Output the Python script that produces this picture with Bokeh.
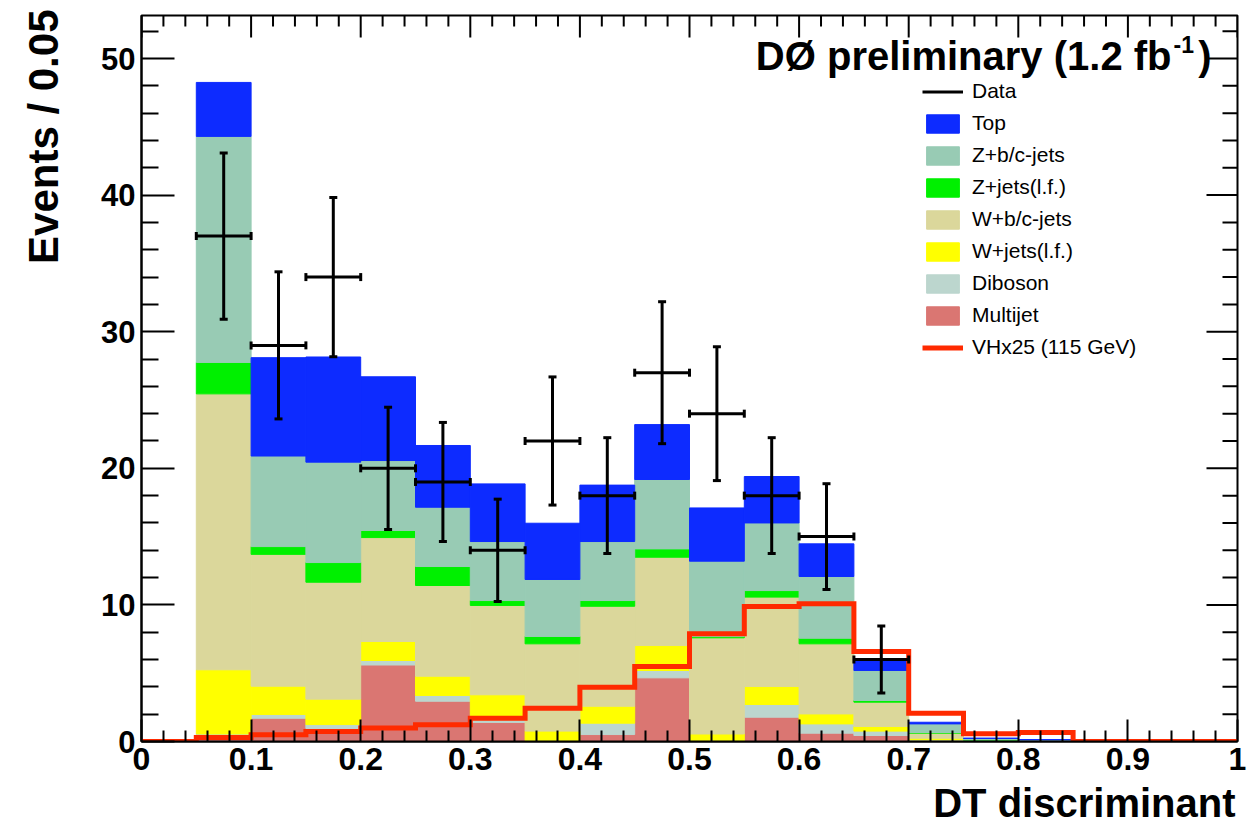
import numpy as np
from bokeh.plotting import figure
from bokeh.models import (Range1d, LinearAxis, FixedTicker, NumeralTickFormatter,
                          Label, Legend, LegendItem, ColumnDataSource, Title)
from bokeh.embed import file_html
from bokeh.resources import INLINE

# ---------------- data ----------------
bin_low = [0.05, 0.10, 0.15, 0.20, 0.25, 0.30, 0.35, 0.40,
           0.45, 0.50, 0.55, 0.60, 0.65, 0.70, 0.75, 0.80]
bin_width = 0.05

multijet = [0.15, 1.70, 0.95, 5.60, 2.95, 1.40, 0.00, 0.51, 4.66, 0.00, 1.78, 0.61, 0.44, 0.05, 0.02, 0.00]
diboson  = [0.40, 0.28, 0.29, 0.33, 0.42, 0.20, 0.05, 0.83, 0.54, 0.05, 0.93, 0.68, 0.32, 0.07, 0.03, 0.03]
w_lf     = [4.70, 2.07, 1.86, 1.39, 1.41, 1.82, 0.71, 1.24, 1.83, 0.50, 1.32, 0.73, 0.34, 0.12, 0.02, 0.01]
w_bc     = [20.20, 9.65, 8.56, 7.61, 6.64, 6.54, 6.39, 7.32, 6.46, 7.04, 6.54, 5.13, 1.78, 0.37, 0.03, 0.02]
z_lf     = [2.30, 0.57, 1.44, 0.52, 1.39, 0.36, 0.54, 0.42, 0.61, 0.10, 0.48, 0.41, 0.12, 0.05, 0.02, 0.01]
z_bc     = [16.55, 6.63, 7.35, 5.12, 4.34, 4.32, 4.17, 4.32, 5.08, 5.51, 4.95, 4.52, 2.20, 0.63, 0.10, 0.05]
top      = [3.95, 7.20, 7.70, 6.13, 4.52, 4.22, 4.12, 4.13, 4.02, 3.90, 3.40, 2.39, 0.85, 0.12, 0.03, 0.02]

data_low    = [0.05, 0.10, 0.15, 0.20, 0.25, 0.30, 0.35, 0.40, 0.45, 0.50, 0.55, 0.60, 0.65]
data_counts = [37, 29, 34, 20, 19, 14, 22, 18, 27, 24, 18, 15, 6]

vh_edges = [0.00, 0.05, 0.10, 0.15, 0.20, 0.25, 0.30, 0.35, 0.40, 0.45, 0.50,
            0.55, 0.60, 0.65, 0.70, 0.75, 0.80, 0.85, 0.90, 0.95, 1.00]
vh_x25 = [0.00, 0.30, 0.50, 0.73, 0.98, 1.22, 1.70, 2.44, 3.98, 5.49, 7.88,
          9.88, 10.08, 6.59, 2.07, 0.56, 0.66, 0.00, 0.00, 0.00]

x_ticks = [0.0, 0.1, 0.2, 0.3, 0.4, 0.5, 0.6, 0.7, 0.8, 0.9, 1.0]
y_ticks = [0, 10, 20, 30, 40, 50]
x_max = 1.0
y_max = 53.15

stack_names  = ["Multijet", "Diboson", "W+jets(l.f.)", "W+b/c-jets", "Z+jets(l.f.)", "Z+b/c-jets", "Top"]
stack_values = [multijet, diboson, w_lf, w_bc, z_lf, z_bc, top]
stack_colors = ["#da7672", "#bcd6ce", "#ffff00", "#dbd79b", "#00f000", "#98cbb4", "#0d2bff"]

FONT = "Liberation Sans"

# ---------------- figure ----------------
p = figure(width=1256, height=831, output_backend="svg", toolbar_location=None,
           x_range=Range1d(0, x_max), y_range=Range1d(0, y_max),
           x_axis_type=None, y_axis_type=None,
           min_border_left=141, min_border_right=19, min_border_top=15, min_border_bottom=90)
p.xgrid.visible = False
p.ygrid.visible = False
p.outline_line_color = "black"
p.outline_line_width = 2
p.background_fill_color = "white"
p.border_fill_color = "white"


def minor_list(step, lo, hi, majors):
    n = int(round((hi - lo) / step))
    vals = [round(lo + i * step, 4) for i in range(n + 1)]
    return [v for v in vals if all(abs(v - m) > 1e-9 for m in majors)]


x_minor = minor_list(0.02, 0.0, 1.0, x_ticks)
y_minor = minor_list(2.0, 0.0, 52.0, y_ticks)


def style_axis(ax, major_len, minor_len, fmt, size, standoff):
    ax.major_tick_in = major_len
    ax.major_tick_out = 0
    ax.minor_tick_in = minor_len
    ax.minor_tick_out = 0
    ax.major_tick_line_width = 2
    ax.minor_tick_line_width = 2
    ax.axis_line_width = 2
    ax.axis_line_color = "black"
    ax.major_tick_line_color = "black"
    ax.minor_tick_line_color = "black"
    ax.formatter = fmt
    ax.major_label_text_font = FONT
    ax.major_label_text_font_style = "bold"
    ax.major_label_text_font_size = size
    ax.major_label_text_color = "black"
    ax.major_label_standoff = standoff


xb = LinearAxis(ticker=FixedTicker(ticks=x_ticks, minor_ticks=x_minor))
style_axis(xb, 22, 11, NumeralTickFormatter(format="0.[0]"), "32px", 6)
p.add_layout(xb, "below")
yl = LinearAxis(ticker=FixedTicker(ticks=y_ticks, minor_ticks=y_minor))
style_axis(yl, 33, 17, NumeralTickFormatter(format="0"), "31px", 6)
p.add_layout(yl, "left")

# x-axis title at the right end of the axis (ROOT style)
p.add_layout(Title(text="DT discriminant", align="right", text_font=FONT, text_font_style="bold",
                   text_font_size="40px", text_color="black", standoff=13, offset=2), "below")

# y-axis title at the top end of the axis (a thin spacer keeps it off the tick labels)
p.add_layout(Title(text=" ", text_font_size="1px", standoff=11), "left")
p.add_layout(Title(text="Events / 0.05", align="right", text_font=FONT,
                   text_font_style="bold", text_font_size="42px", text_color="black",
                   standoff=35, offset=-6), "left")

# ---------------- stacked backgrounds ----------------
src = ColumnDataSource(dict(
    x=[b + bin_width / 2 for b in bin_low],
    **{name: vals for name, vals in zip(stack_names, stack_values)}
))
stack_r = p.vbar_stack(stack_names, x="x", width=bin_width, source=src,
                       fill_color=stack_colors, line_color=stack_colors, line_width=1)

# ticks on the top and right frame edges (ROOT style)
p.ray(x=x_ticks, y=[y_max] * len(x_ticks), length=22, length_units="screen",
      angle=-np.pi / 2, line_color="black", line_width=2)
p.ray(x=x_minor, y=[y_max] * len(x_minor), length=11, length_units="screen",
      angle=-np.pi / 2, line_color="black", line_width=2)
p.ray(x=[x_max] * len(y_ticks), y=y_ticks, length=31, length_units="screen",
      angle=np.pi, line_color="black", line_width=2)
p.ray(x=[x_max] * len(y_minor), y=y_minor, length=15, length_units="screen",
      angle=np.pi, line_color="black", line_width=2)

# ---------------- signal x25 ----------------
r_vh = p.step(x=vh_edges, y=vh_x25 + [vh_x25[-1]], mode="after",
              line_color="#ff2a00", line_width=5, line_join="miter")

# ---------------- data with errors ----------------
d_x = np.array(data_low) + bin_width / 2
d_n = np.array(data_counts, dtype=float)
d_err = np.sqrt(d_n)
dsrc = ColumnDataSource(dict(x=d_x, lo=np.array(data_low), hi=np.array(data_low) + bin_width,
                             n=d_n, ylo=d_n - d_err, yhi=d_n + d_err))
r_h = p.segment(x0="lo", x1="hi", y0="n", y1="n", source=dsrc, line_color="black", line_width=3)
p.segment(x0="x", x1="x", y0="ylo", y1="yhi", source=dsrc, line_color="black", line_width=3)
p.scatter(x="x", y="ylo", source=dsrc, marker="dash", size=8, line_color="black", line_width=3)
p.scatter(x="x", y="yhi", source=dsrc, marker="dash", size=8, line_color="black", line_width=3)
p.scatter(x="lo", y="n", source=dsrc, marker="dash", angle=np.pi / 2, size=8, line_color="black", line_width=3)
p.scatter(x="hi", y="n", source=dsrc, marker="dash", angle=np.pi / 2, size=8, line_color="black", line_width=3)

# ---------------- legend ----------------
rmap = dict(zip(stack_names, stack_r))
items = [LegendItem(label="Data", renderers=[r_h])]
for name in ["Top", "Z+b/c-jets", "Z+jets(l.f.)", "W+b/c-jets", "W+jets(l.f.)", "Diboson", "Multijet"]:
    items.append(LegendItem(label=name, renderers=[rmap[name]]))
items.append(LegendItem(label="VHx25 (115 GeV)", renderers=[r_vh]))
legend = Legend(items=items, location=(781, 382), orientation="vertical",
                border_line_color=None, background_fill_alpha=0, padding=0, margin=0,
                spacing=8, glyph_width=41, glyph_height=23, label_height=23, label_standoff=9,
                label_text_font=FONT, label_text_font_size="21px", label_text_color="black")
p.add_layout(legend)

# ---------------- experiment label ----------------
p.add_layout(Label(x=0.9398, y=50.15, text="DØ preliminary (1.2 fb", text_align="right",
                   text_baseline="alphabetic", text_font=FONT, text_font_style="bold",
                   text_font_size="40px", text_color="black"))
p.add_layout(Label(x=0.9416, y=51.03, text="-1", text_align="left",
                   text_baseline="alphabetic", text_font=FONT, text_font_style="bold",
                   text_font_size="23px", text_color="black"))
p.add_layout(Label(x=0.9763, y=50.15, text=")", text_align="right",
                   text_baseline="alphabetic", text_font=FONT, text_font_style="bold",
                   text_font_size="40px", text_color="black"))

open("out.html", "w").write(file_html(p, INLINE))
